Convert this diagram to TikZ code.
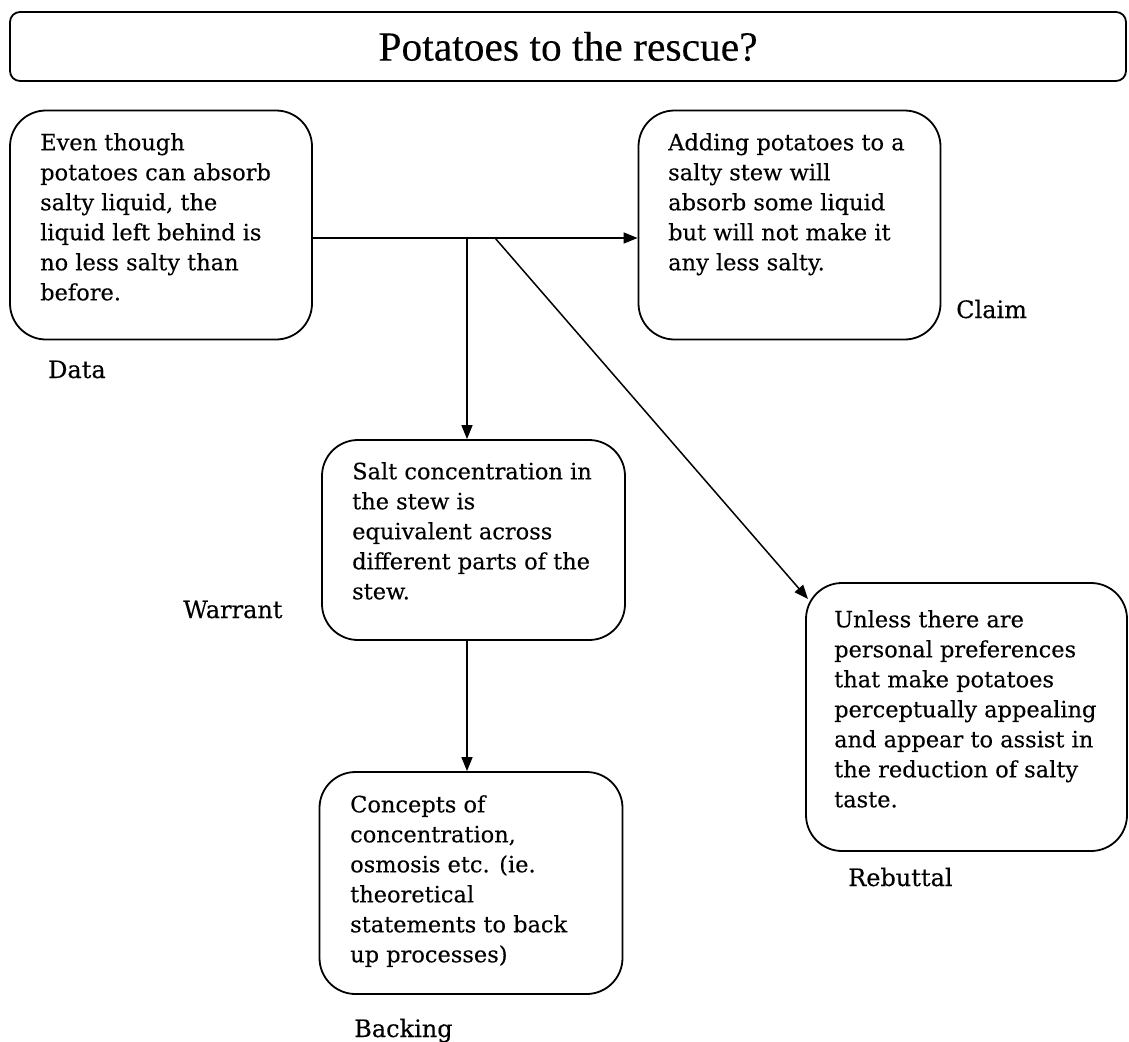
\documentclass[tikz,border=0pt]{standalone}
\usepackage{fontspec}
\setmainfont{DejaVu Serif}[FakeBold=0.25]
\newfontfamily\titlefont{Liberation Serif}[FakeBold=0.2]
\usetikzlibrary{arrows.meta}
\begin{document}
\begin{tikzpicture}[x=1pt,y=-1pt,
  box/.style={draw, line width=1.8pt, rounded corners=36pt, inner sep=0pt},
  txt/.style={anchor=north west, align=left, inner sep=0pt, font=\fontsize{22.5}{30}\selectfont},
  lbl/.style={anchor=base west, inner sep=0pt, font=\fontsize{24}{28}\selectfont},
  arr/.style={line width=1.5pt, -{Triangle[length=14pt,width=11pt]}}]
\useasboundingbox (0,0) rectangle (1129,1041);
% title
\node[box, rounded corners=10pt, minimum width=1116pt, minimum height=69pt,
      font=\titlefont\fontsize{41.5}{44}\selectfont] (title) at (568,46.5) {Potatoes to the rescue?};
% boxes
\node[box, minimum width=302pt, minimum height=229pt] (data) at (161,225) {};
\node[box, minimum width=302pt, minimum height=229pt] (claim) at (789.5,225) {};
\node[box, minimum width=303pt, minimum height=200pt] (warrant) at (473.5,540) {};
\node[box, minimum width=303pt, minimum height=222pt] (backing) at (471,883) {};
\node[box, minimum width=321pt, minimum height=268pt] (rebuttal) at (966.5,717) {};
% texts
\node[txt] (datatext) at (40,133) {Even though\\potatoes can absorb\\salty liquid, the\\liquid left behind is\\no less salty than\\before.};
\node[txt] (claimtext) at (668,133) {Adding potatoes to a\\salty stew will\\absorb some liquid\\but will not make it\\any less salty.};
\node[txt] (warranttext) at (352,462) {Salt concentration in\\the stew is\\equivalent across\\different parts of the\\stew.};
\node[txt] (backingtext) at (350,795) {Concepts of\\concentration,\\osmosis etc. (ie.\\theoretical\\statements to back\\up processes)};
\node[txt] (rebuttaltext) at (834,610) {Unless there are\\personal preferences\\that make potatoes\\perceptually appealing\\and appear to assist in\\the reduction of salty\\taste.};
% labels
\node[lbl] (datalbl) at (48,378) {Data};
\node[lbl] (claimlbl) at (956,318) {Claim};
\node[lbl] (warrantlbl) at (183,618) {Warrant};
\node[lbl] (rebuttallbl) at (848,886) {Rebuttal};
\node[lbl] (backinglbl) at (354,1037) {Backing};
% connectors
\coordinate (jw) at (467,238);
\coordinate (jr) at (495,238);
\coordinate (rtip) at (808,599);
\draw[arr] (data.east |- jw) -- (claim.west |- jw);
\draw[arr] (jw) -- (warrant.north -| jw);
\draw[arr] (jr) -- (rtip);
\draw[arr] (warrant.south -| jw) -- (backing.north -| jw);
\end{tikzpicture}
\end{document}
